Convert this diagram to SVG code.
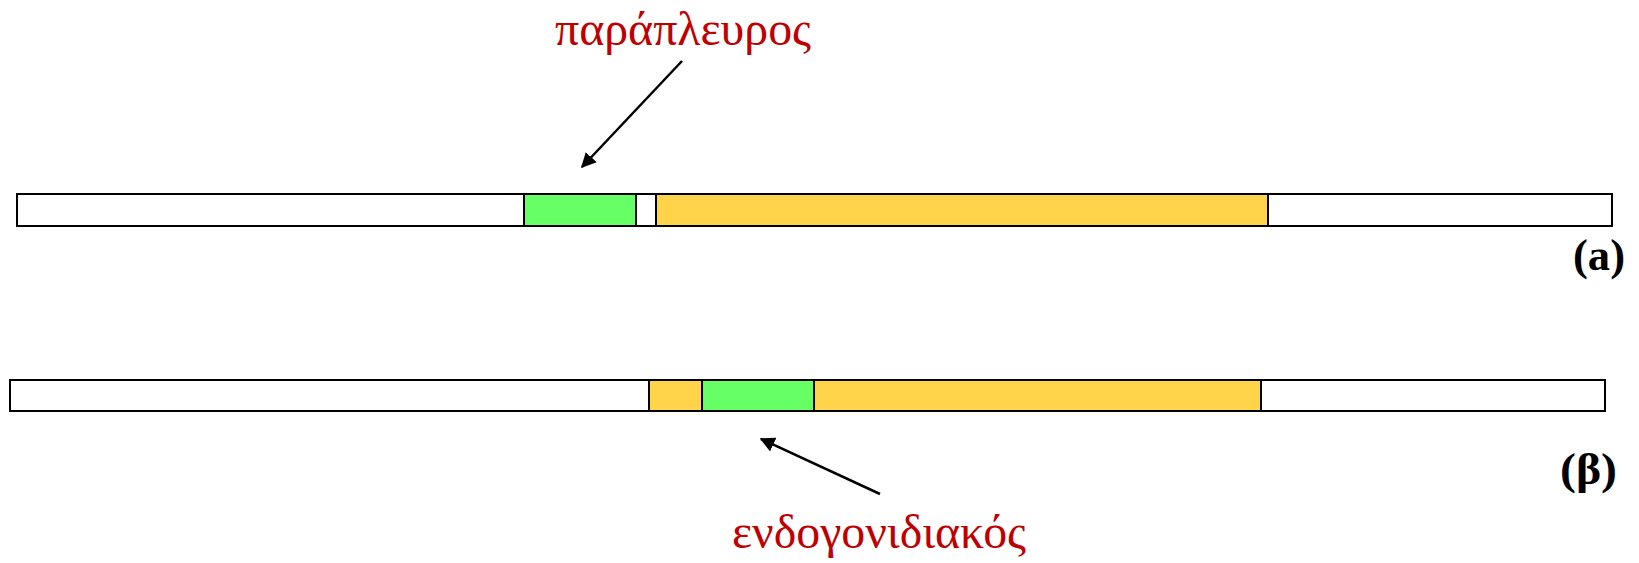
<svg xmlns="http://www.w3.org/2000/svg" width="1639" height="563" viewBox="0 0 1639 563">
<style>
.bar{fill:#ffffff;stroke:#000000;stroke-width:2}
.green{fill:#66ff66;stroke:#000000;stroke-width:2}
.orange{fill:#ffd44a;stroke:#000000;stroke-width:2}
.lbl{font-family:"Liberation Serif","DejaVu Serif",serif;font-size:48px;fill:#c00000}
.tag{font-family:"Liberation Serif","DejaVu Serif",serif;font-size:44px;font-weight:bold;fill:#000000}
.arrow{stroke:#000000;stroke-width:2.5;fill:none;marker-end:url(#ah)}
</style>
<defs>
<marker id="ah" viewBox="0 0 10 10" refX="9" refY="5" markerWidth="6" markerHeight="6" markerUnits="strokeWidth" orient="auto">
<path d="M0,0 L10,5 L0,10 z" fill="#000000"/>
</marker>
</defs>
<rect width="1639" height="563" fill="#ffffff"/>
<g id="bar-a">
<rect class="bar" x="17" y="194" width="1595" height="32"/>
<rect class="green" x="524" y="194" width="112" height="32"/>
<rect class="orange" x="656" y="194" width="612" height="32"/>
</g>
<g id="bar-b">
<rect class="bar" x="10" y="380" width="1595" height="31"/>
<rect class="orange" x="649" y="380" width="612" height="31"/>
<rect class="green" x="702" y="380" width="112" height="31"/>
</g>
<g id="label-parapleuros">
<text class="lbl" x="555" y="45" textLength="256" lengthAdjust="spacingAndGlyphs">παράπλευρος</text>
</g>
<g id="label-endogonidiakos">
<text class="lbl" x="732" y="548" textLength="294" lengthAdjust="spacingAndGlyphs">ενδογονιδιακός</text>
</g>
<g id="tag-a">
<text class="tag" x="1573" y="270" textLength="52" lengthAdjust="spacingAndGlyphs">(a)</text>
</g>
<g id="tag-b">
<text class="tag" x="1560" y="484" textLength="57" lengthAdjust="spacingAndGlyphs">(β)</text>
</g>
<g id="connectors">
<line class="arrow" x1="682" y1="61" x2="582" y2="167"/>
<line class="arrow" x1="880" y1="494" x2="761" y2="439"/>
</g>
</svg>
